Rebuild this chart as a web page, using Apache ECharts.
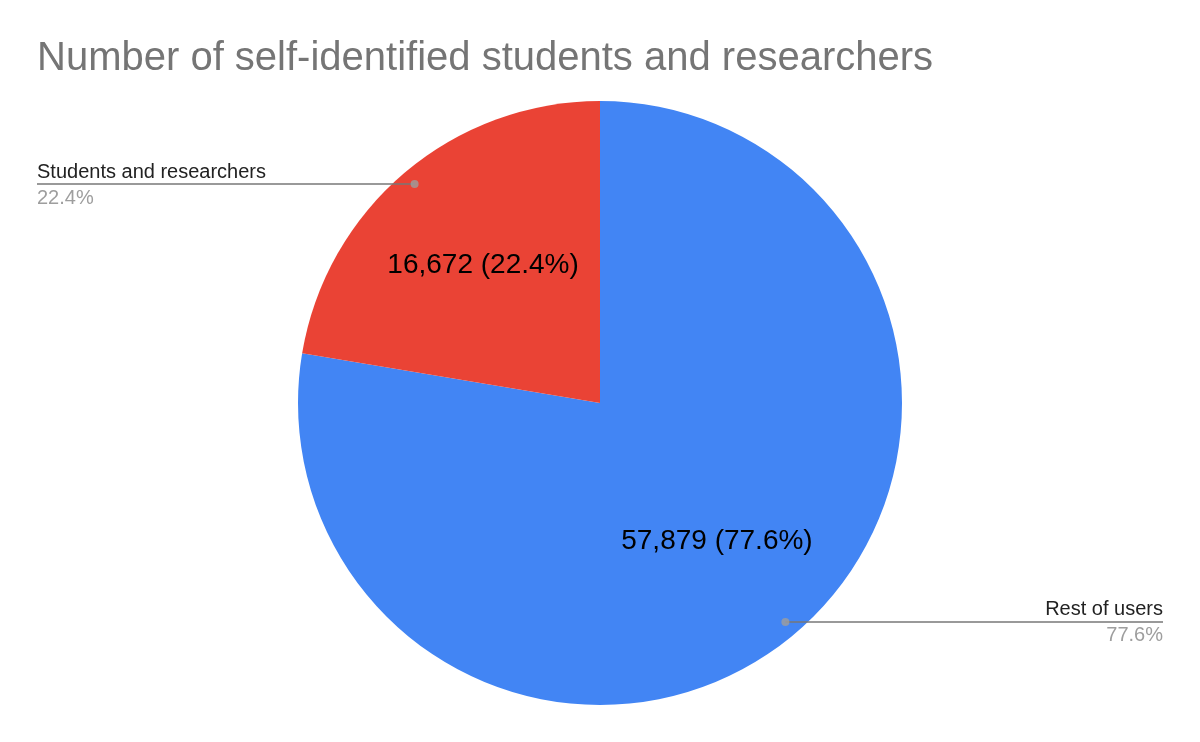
<!DOCTYPE html>
<html>
<head>
<meta charset="utf-8">
<script src="https://cdn.jsdelivr.net/npm/echarts@6/dist/echarts.min.js"></script>
<style>
html,body{margin:0;padding:0;background:#fff;}
#chart{width:1200px;height:742px;}
</style>
</head>
<body>
<div id="chart"></div>
<script>
const titleText = 'Number of self-identified students and researchers';
const categories = ['Rest of users', 'Students and researchers'];
const values = [57879, 16672];
const colors = ['#4285F4', '#EA4335'];

const FONT = "'Liberation Sans', Arial, Helvetica, sans-serif";
const W = 1200, H = 742;
const center = [600, 403];
const radius = 302;
const dotFrac = 0.95;
const edge = 37;

const total = values.reduce((a, b) => a + b, 0);
const mids = [];
let cum = 0;
values.forEach(v => { mids.push(cum + v / 2); cum += v; });

const pieData = categories.map((c, i) => ({ name: c, value: values[i], itemStyle: { color: colors[i] } }));
const plainData = categories.map((c, i) => ({ name: c, value: values[i] }));
const dotData = mids.map(m => [dotFrac, m]);

const chart = echarts.init(document.getElementById('chart'), null, { renderer: 'canvas' });

chart.setOption({
  animation: false,
  backgroundColor: '#ffffff',
  title: {
    text: titleText,
    left: edge,
    top: 39,
    padding: 0,
    textStyle: { fontFamily: FONT, fontSize: 40, fontWeight: 'normal', color: '#757575' }
  },
  polar: { center: center, radius: radius },
  angleAxis: { type: 'value', min: 0, max: total, startAngle: 90, clockwise: true, show: false },
  radiusAxis: { type: 'value', min: 0, max: 1, show: false },
  series: [
    {
      type: 'pie',
      z: 2,
      center: center,
      radius: radius,
      startAngle: 90,
      clockwise: true,
      silent: true,
      data: pieData,
      itemStyle: { borderWidth: 0 },
      label: { show: false },
      labelLine: { show: false }
    },
    {
      type: 'pie',
      z: 5,
      center: center,
      radius: radius,
      startAngle: 90,
      clockwise: true,
      percentPrecision: 1,
      avoidLabelOverlap: false,
      silent: true,
      data: plainData,
      itemStyle: { color: 'rgba(0,0,0,0)', borderWidth: 0 },
      label: {
        show: true,
        position: 'outer',
        formatter: '{n|{b}}\n{p|{d}%}',
        rich: {
          n: { fontFamily: FONT, fontSize: 20, color: '#222222', lineHeight: 28 },
          p: { fontFamily: FONT, fontSize: 20, color: '#9e9e9e', lineHeight: 24 }
        }
      },
      labelLine: { show: true, length: 10, length2: 10, lineStyle: { color: '#777777', width: 1.5 } },
      labelLayout: function (params) {
        const frac = mids[params.dataIndex] / total;
        const th = frac * Math.PI * 2;
        const dx = center[0] + Math.sin(th) * radius * dotFrac;
        const dy = center[1] - Math.cos(th) * radius * dotFrac;
        const isLeft = dx < center[0];
        const ex = isLeft ? edge : W - edge;
        return {
          x: ex,
          y: dy - 26,
          align: isLeft ? 'left' : 'right',
          verticalAlign: 'top',
          labelLinePoints: [[dx, dy], [dx, dy], [ex, dy]]
        };
      }
    },
    {
      type: 'pie',
      z: 5,
      center: center,
      radius: 356,
      startAngle: 90,
      clockwise: true,
      percentPrecision: 1,
      silent: true,
      data: plainData,
      itemStyle: { color: 'rgba(0,0,0,0)', borderWidth: 0 },
      label: {
        show: true,
        position: 'inside',
        fontFamily: FONT,
        fontSize: 28,
        color: '#000000',
        formatter: function (p) { return p.value.toLocaleString('en-US') + ' (' + p.percent + '%)'; }
      },
      labelLine: { show: false }
    },
    {
      type: 'scatter',
      coordinateSystem: 'polar',
      data: dotData,
      symbol: 'circle',
      symbolSize: 8,
      silent: true,
      z: 10,
      itemStyle: { color: '#9e9e9e' }
    }
  ]
});
</script>
</body>
</html>
